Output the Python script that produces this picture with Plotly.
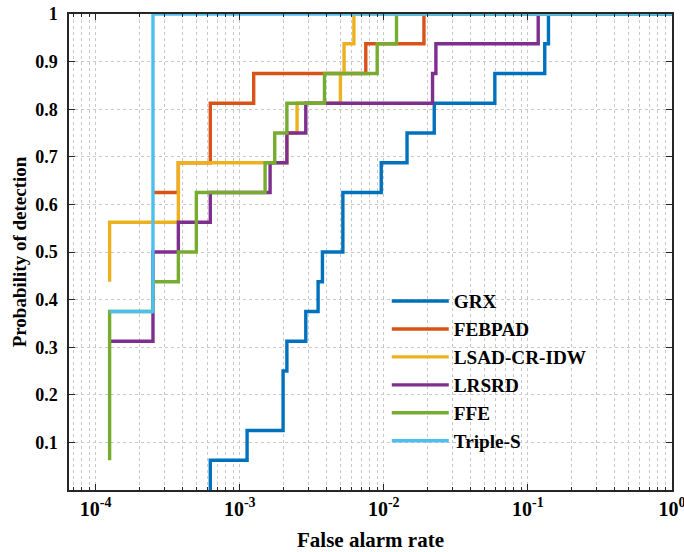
import plotly.graph_objects as go

# ---- data (false alarm rate, probability of detection) step corners ----
grx_far = [6.25e-4, 6.25e-4, 1.125e-3, 2.0e-3, 2.125e-3, 2.875e-3, 3.5e-3, 3.75e-3,
           5.2e-3, 9.6e-3, 0.0145, 0.0224, 0.059, 0.131, 0.139, 1.0]
grx_pd = [0.0, 0.0625, 0.125, 0.25, 0.3125, 0.375, 0.4375, 0.5,
          0.625, 0.6875, 0.75, 0.8125, 0.875, 0.9375, 1.0, 1.0]

febpad_far = [2.5e-4, 3.75e-4, 6.25e-4, 1.25e-3, 7.5e-3, 0.019, 1.0]
febpad_pd = [0.625, 0.6875, 0.8125, 0.875, 0.9375, 1.0, 1.0]

lsad_far = [1.25e-4, 1.25e-4, 3.75e-4, 2.125e-3, 2.5e-3, 5.0e-3, 5.3e-3, 6.2e-3, 1.0]
lsad_pd = [0.4375, 0.5625, 0.6875, 0.75, 0.8125, 0.875, 0.9375, 1.0, 1.0]

lrsrd_far = [1.25e-4, 2.5e-4, 3.75e-4, 6.25e-4, 1.625e-3, 2.125e-3, 2.875e-3, 0.0218, 0.023, 0.118, 1.0]
lrsrd_pd = [0.3125, 0.5, 0.5625, 0.625, 0.6875, 0.75, 0.8125, 0.875, 0.9375, 1.0, 1.0]

ffe_far = [1.25e-4, 1.25e-4, 2.5e-4, 3.75e-4, 5.0e-4, 1.5e-3, 1.75e-3, 2.125e-3, 3.875e-3, 9.0e-3, 0.01225, 1.0]
ffe_pd = [0.0625, 0.375, 0.4375, 0.5, 0.625, 0.6875, 0.75, 0.8125, 0.875, 0.9375, 1.0, 1.0]

triple_far = [1.25e-4, 2.5e-4, 1.0]
triple_pd = [0.375, 1.0, 1.0]

names = ["GRX", "FEBPAD", "LSAD-CR-IDW", "LRSRD", "FFE", "Triple-S"]
series = [(grx_far, grx_pd), (febpad_far, febpad_pd), (lsad_far, lsad_pd),
          (lrsrd_far, lrsrd_pd), (ffe_far, ffe_pd), (triple_far, triple_pd)]
colors = ["#0072BD", "#D95319", "#EDB120", "#7E2F8E", "#77AC30", "#4DBEEE"]

x_major = [1e-4, 1e-3, 1e-2, 1e-1, 1.0]
x_major_text = ["10<sup>-4</sup>", "10<sup>-3</sup>", "10<sup>-2</sup>", "10<sup>-1</sup>", "10<sup>0</sup>"]
y_ticks = [0.1, 0.2, 0.3, 0.4, 0.5, 0.6, 0.7, 0.8, 0.9, 1.0]
y_text = ["0.1", "0.2", "0.3", "0.4", "0.5", "0.6", "0.7", "0.8", "0.9", "1"]

minor_vals = [k * 10.0 ** e for e in range(-5, 0) for k in range(2, 10)]

FONT = "Liberation Serif"

fig = go.Figure()
for i, (name, (fx, fy)) in enumerate(zip(names, series)):
    fig.add_trace(go.Scatter(
        x=fx, y=fy, mode="lines", name=name, line_shape="hv",
        line=dict(color=colors[i], width=3.4), legendgroup=name,
    ))

grid_col = "#c8c8c8"
fig.update_layout(
    width=684, height=552,
    margin=dict(l=69, r=12, t=14, b=62),
    paper_bgcolor="white", plot_bgcolor="white",
    font=dict(family=FONT, size=18, color="black"),
    showlegend=True,
    legend=dict(
        x=0.527, y=0.437, xanchor="left", yanchor="top",
        bgcolor="rgba(0,0,0,0)", borderwidth=0,
        font=dict(family=FONT, size=19.2, color="black", weight="bold"),
        tracegroupgap=0, itemwidth=57,
    ),
    xaxis=dict(
        type="log", range=[-4.185, 0.0005],
        tickmode="array", tickvals=x_major, ticktext=x_major_text,
        ticks="inside", ticklen=6, tickwidth=1, tickcolor="#262626",
        ticklabeloverflow="allow",
        showline=True, linecolor="#262626", linewidth=1.5, mirror="ticks",
        showgrid=True, gridcolor=grid_col, griddash="dot", gridwidth=1,
        zeroline=False,
        tickfont=dict(family=FONT, size=20, color="black", weight="bold"),
        minor=dict(tickmode="array", tickvals=minor_vals, ticks="inside", ticklen=3,
                   tickcolor="#262626", showgrid=True, gridcolor=grid_col, griddash="dot", gridwidth=1),
        title=dict(text="False alarm rate", standoff=14,
                   font=dict(family=FONT, size=21, color="black", weight="bold")),
        automargin=False,
    ),
    yaxis=dict(
        range=[0, 1],
        tickmode="array", tickvals=y_ticks, ticktext=y_text,
        ticks="inside", ticklen=6, tickwidth=1, tickcolor="#262626",
        showline=True, linecolor="#262626", linewidth=1.5, mirror="ticks",
        showgrid=True, gridcolor=grid_col, griddash="dot", gridwidth=1,
        zeroline=False,
        tickfont=dict(family=FONT, size=18, color="black", weight="bold"),
        ticklabelstandoff=6,
        title=dict(text="Probability of detection", standoff=4,
                   font=dict(family=FONT, size=19, color="black", weight="bold")),
        automargin=False,
    ),
)

fig.write_html("out.html")
